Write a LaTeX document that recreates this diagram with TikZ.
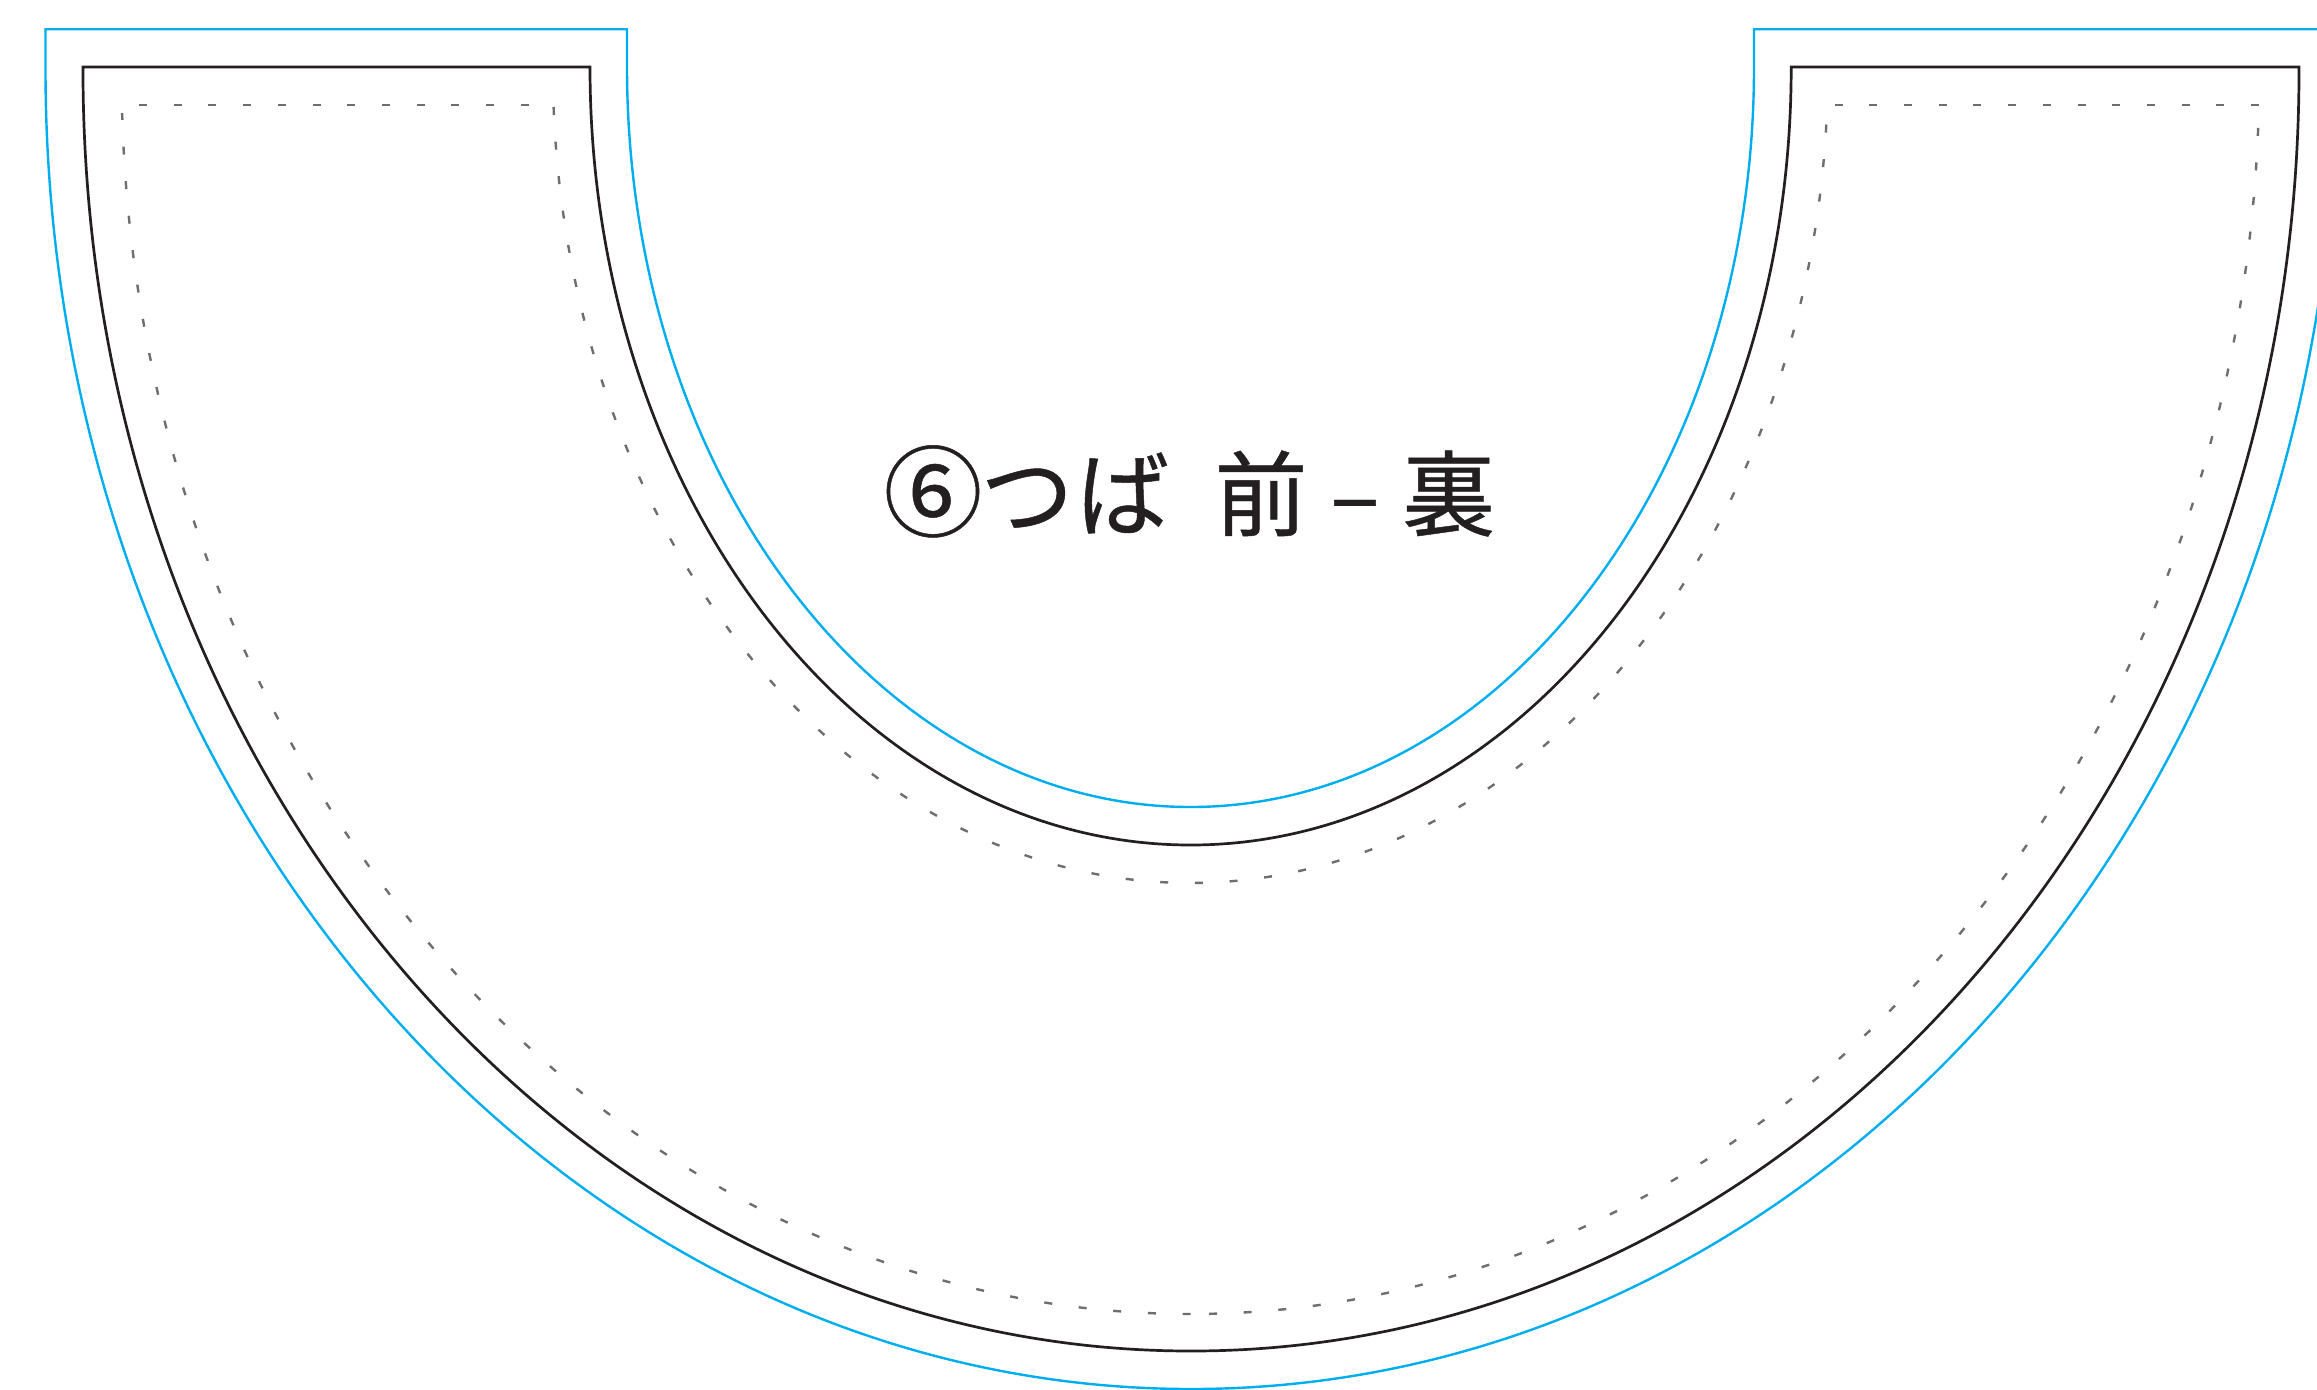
\documentclass[tikz,border=0pt]{standalone}
\usepackage{fontspec}
\newfontfamily\jpfont[FakeBold=0.5]{Noto Sans CJK JP}
\definecolor{cutblue}{HTML}{00AEEF}
\definecolor{ink}{HTML}{231F20}
\definecolor{stitch}{HTML}{6D6E71}
\tikzset{
  cutline/.style={draw=cutblue,line width=2.4pt,line join=miter},
  foldline/.style={draw=ink,line width=2.7pt,line join=miter},
  stitchline/.style={draw=stitch,line width=2.4pt,dash pattern=on 8pt off 26.7pt},
  titletext/.style={inner sep=0pt,outer sep=0pt,text=ink,font=\jpfont\fontsize{93}{93}\selectfont}
}
\begin{document}
\begin{tikzpicture}[x=1pt,y=-1pt]
\useasboundingbox (0,0) rectangle (2317,1389);
% cutting line
\path[cutline] (45.5,29.3) -- (627,29.3) -- (627,67)
  arc[start angle=180,end angle=0,x radius=563.5,y radius=740]
  -- (1754,29.3) -- (2336.5,29.3) -- (2336.5,69)
  arc[start angle=0,end angle=180,x radius=1145.5,y radius=1320] -- cycle;
% fold line
\path[foldline] (83,67) -- (590,67)
  arc[start angle=180,end angle=0,x radius=600.6,y radius=778]
  -- (2299,67) -- (2299,70)
  arc[start angle=0,end angle=180,x radius=1108,y radius=1281] -- cycle;
% stitching
\path[stitchline] (139,104.7) -- (529,104.7);
\path[stitchline] (1834.6,104.7) -- (2259.5,104.7);
\path[stitchline] (553.6,107)
  arc[start angle=177.12,end angle=3.9,x radius=637.6,y radius=817];
\path[stitchline] (1190.5,1314)
  arc[start angle=90,end angle=178.06,x radius=1069,y radius=1243];
\path[stitchline] (1209,1313.8)
  arc[start angle=89,end angle=2.6,x radius=1069,y radius=1243];
\node[titletext,anchor=base west] (title) at (883.5,529)
  {{\fontsize{99}{99}\selectfont ⑥}\hspace{-2pt}つ\hspace{3pt}ば\hspace{45pt}前\hspace{22.5pt}–\hspace{22.5pt}裏};
\end{tikzpicture}
\end{document}
